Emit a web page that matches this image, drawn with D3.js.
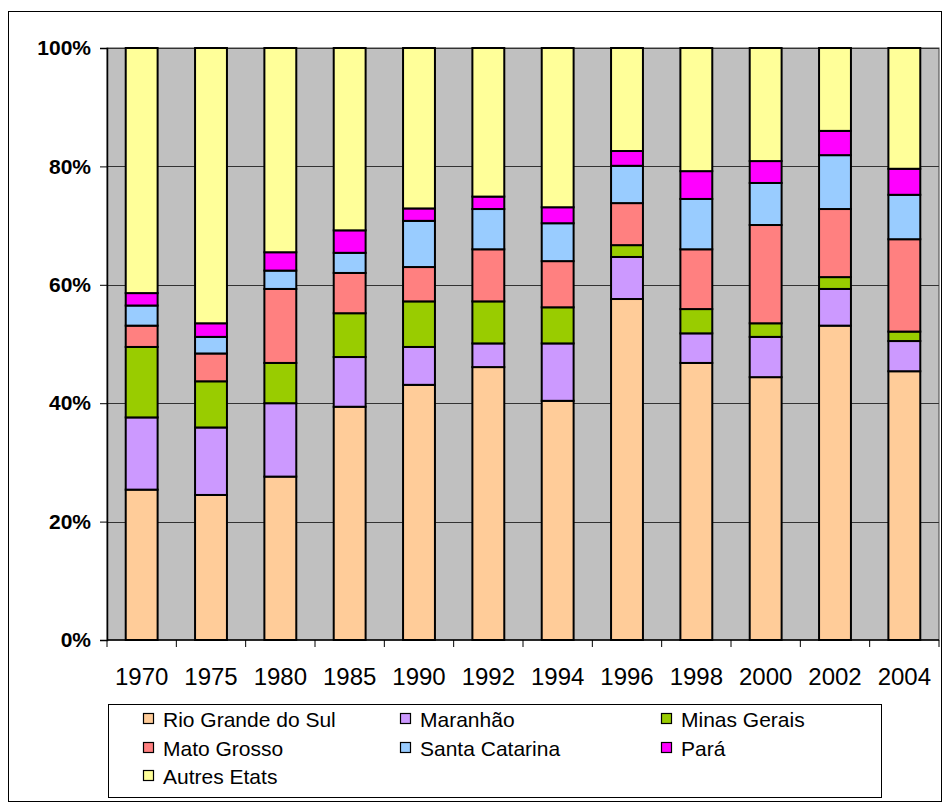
<!DOCTYPE html>
<html>
<head>
<meta charset="utf-8">
<script src="https://cdn.jsdelivr.net/npm/d3@7"></script>
<style>
  body { margin: 0; background: #fff; }
  svg { display: block; font-family: Arial, "Liberation Sans", sans-serif; }
</style>
</head>
<body>
<script>
var w = 943;
var h = 803;

var years = ["1970", "1975", "1980", "1985", "1990", "1992", "1994", "1996", "1998", "2000", "2002", "2004"];
var states = ["Rio Grande do Sul", "Maranhão", "Minas Gerais", "Mato Grosso", "Santa Catarina", "Pará", "Autres Etats"];
var colors = ["#FFCC99", "#CC99FF", "#99CC00", "#FF8080", "#99CCFF", "#FF00FF", "#FFFF99"];

// parts in percent, one list per state, in the order of years
var rioGrande   = [25.4, 24.5, 27.6, 39.4, 43.1, 46.1, 40.4, 57.6, 46.8, 44.4, 53.1, 45.4];
var maranhao    = [12.2, 11.4, 12.4,  8.4,  6.4,  4.0,  9.7,  7.1,  5.0,  6.8,  6.2,  5.1];
var minasGerais = [11.9,  7.8,  6.8,  7.4,  7.7,  7.1,  6.1,  2.0,  4.1,  2.3,  2.0,  1.6];
var matoGrosso  = [ 3.6,  4.7, 12.5,  6.8,  5.8,  8.8,  7.8,  7.1, 10.1, 16.6, 11.5, 15.6];
var santaCat    = [ 3.4,  2.8,  3.1,  3.4,  7.8,  6.8,  6.4,  6.3,  8.5,  7.1,  9.1,  7.5];
var para        = [ 2.1,  2.3,  3.1,  3.8,  2.1,  2.1,  2.7,  2.5,  4.7,  3.7,  4.1,  4.4];
var autres      = [41.4, 46.5, 34.5, 30.8, 27.1, 25.1, 26.9, 17.4, 20.8, 19.1, 14.0, 20.4];

var yTicks = [0, 0.2, 0.4, 0.6, 0.8, 1];

var series = [rioGrande, maranhao, minasGerais, matoGrosso, santaCat, para, autres];
var table = years.map(function(y, i) {
  var row = { year: y };
  states.forEach(function(s, j) { row[s] = series[j][i]; });
  return row;
});

var plotLeft = 107, plotTop = 48, plotRight = 939, plotBottom = 640;

var svg = d3.select("body").append("svg")
  .attr("width", w)
  .attr("height", h);

// outer frame
svg.append("rect")
  .attr("x", 8.5).attr("y", 11.5)
  .attr("width", 933).attr("height", 790)
  .attr("fill", "#fff").attr("stroke", "#000").attr("stroke-width", 1);

var xScale = d3.scaleBand()
  .domain(years)
  .range([plotLeft, plotRight])
  .paddingInner(0.54)
  .paddingOuter(0.27);

var yScale = d3.scaleLinear()
  .domain([0, 1])
  .range([plotBottom, plotTop]);

// plot area
svg.append("rect")
  .attr("x", plotLeft).attr("y", plotTop)
  .attr("width", plotRight - plotLeft).attr("height", plotBottom - plotTop)
  .attr("fill", "#C0C0C0").attr("stroke", "#444").attr("stroke-width", 1);

// gridlines
svg.append("g")
  .selectAll("line")
  .data(yTicks.slice(1))
  .enter()
  .append("line")
  .attr("x1", plotLeft).attr("x2", plotRight)
  .attr("y1", function(d) { return Math.round(yScale(d)) + 0.5; })
  .attr("y2", function(d) { return Math.round(yScale(d)) + 0.5; })
  .attr("stroke", "#333").attr("stroke-width", 1);

var stack = d3.stack()
  .keys(states)
  .offset(d3.stackOffsetExpand);

var layers = svg.append("g")
  .selectAll("g")
  .data(stack(table))
  .enter()
  .append("g")
  .attr("fill", function(d, i) { return colors[i]; });

layers.selectAll("rect")
  .data(function(d) { return d; })
  .enter()
  .append("rect")
  .attr("x", function(d) { return xScale(d.data.year); })
  .attr("y", function(d) { return yScale(d[1]); })
  .attr("width", xScale.bandwidth())
  .attr("height", function(d) { return yScale(d[0]) - yScale(d[1]); })
  .attr("stroke", "#000")
  .attr("stroke-width", 2);

// y axis
var yAxis = d3.axisLeft(yScale)
  .tickValues(yTicks)
  .tickFormat(d3.format(".0%"))
  .tickSize(7)
  .tickPadding(9);

var gy = svg.append("g")
  .attr("transform", "translate(" + plotLeft + ",0)")
  .call(yAxis);
gy.select(".domain").attr("stroke", "#000").attr("stroke-width", 1.5);
gy.selectAll(".tick line").attr("stroke", "#000");
gy.selectAll("text")
  .attr("font-size", 21)
  .attr("font-weight", "bold")
  .attr("font-family", "Arial, 'Liberation Sans', sans-serif")
  .attr("fill", "#000");

// x axis: ticks between categories
var xAxisLine = svg.append("g")
  .attr("transform", "translate(0," + plotBottom + ")");
xAxisLine.append("line")
  .attr("x1", plotLeft).attr("x2", plotRight)
  .attr("stroke", "#000").attr("stroke-width", 1.5);

xAxisLine.selectAll("line.tick")
  .data(d3.range(years.length + 1))
  .enter()
  .append("line")
  .attr("class", "tick")
  .attr("x1", function(i) { return plotLeft + i * (plotRight - plotLeft) / years.length; })
  .attr("x2", function(i) { return plotLeft + i * (plotRight - plotLeft) / years.length; })
  .attr("y1", 0).attr("y2", 7)
  .attr("stroke", "#000");

xAxisLine.selectAll("text")
  .data(years)
  .enter()
  .append("text")
  .attr("x", function(d) { return xScale(d) + xScale.bandwidth() / 2; })
  .attr("y", 45)
  .attr("text-anchor", "middle")
  .attr("font-size", 24)
  .attr("fill", "#000")
  .text(function(d) { return d; });

// legend
var legend = svg.append("g");
legend.append("rect")
  .attr("x", 108.5).attr("y", 704.5)
  .attr("width", 773).attr("height", 93)
  .attr("fill", "#fff").attr("stroke", "#000");

var colX = [163, 420, 681];
var rowY = [719, 748, 776];

var items = legend.selectAll("g.item")
  .data(states)
  .enter()
  .append("g")
  .attr("class", "item")
  .attr("transform", function(d, i) {
    return "translate(" + colX[i % 3] + "," + rowY[Math.floor(i / 3)] + ")";
  });

items.append("rect")
  .attr("x", -19.5).attr("y", -5.5)
  .attr("width", 10).attr("height", 10)
  .attr("fill", function(d, i) { return colors[i]; })
  .attr("stroke", "#000").attr("stroke-width", 1.2);

items.append("text")
  .attr("x", 0)
  .attr("y", 7.5)
  .attr("font-size", 21)
  .attr("fill", "#000")
  .text(function(d) { return d; });
</script>
</body>
</html>
